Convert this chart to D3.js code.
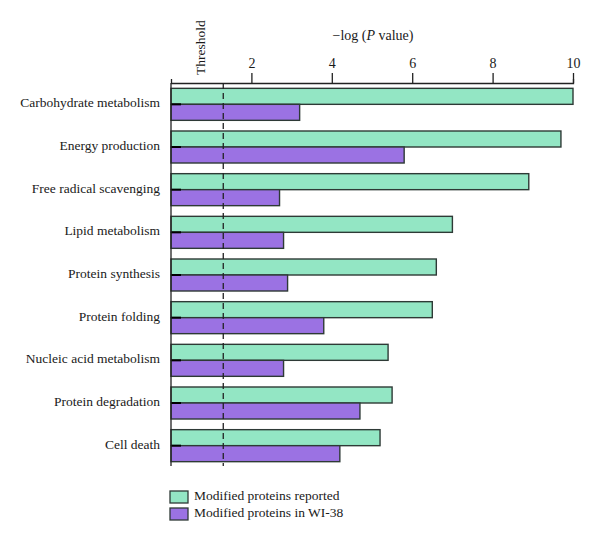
<!DOCTYPE html>
<html>
<head>
<meta charset="utf-8">
<script src="https://cdn.jsdelivr.net/npm/d3@7"></script>
<style>
  body { margin: 0; background: #fff; }
  text { font-family: "Liberation Serif", "DejaVu Serif", serif; fill: #1a1a1a; }
</style>
</head>
<body>
<svg id="chart" width="600" height="545"></svg>
<script>
const categories = ["Carbohydrate metabolism", "Energy production", "Free radical scavenging",
  "Lipid metabolism", "Protein synthesis", "Protein folding", "Nucleic acid metabolism",
  "Protein degradation", "Cell death"];
const reported = [10.0, 9.7, 8.9, 7.0, 6.6, 6.5, 5.4, 5.5, 5.2];
const wi38 = [3.2, 5.8, 2.7, 2.8, 2.9, 3.8, 2.8, 4.7, 4.2];
const seriesNames = ["Modified proteins reported", "Modified proteins in WI-38"];
const tickValues = [2, 4, 6, 8, 10];
const threshold = 1.3;

const colors = ["#93E6C4", "#9B72E3"];
const strokeCol = "#2e3a36";

const svg = d3.select("#chart");
const x = d3.scaleLinear().domain([0, 10]).range([171, 573]);
const y = d3.scaleBand().domain(categories).range([83, 467]).paddingInner(0.25).paddingOuter(0.125);
const sub = d3.scaleBand().domain([0, 1]).range([0, y.bandwidth()]);

// bars
const series = [reported, wi38];
series.forEach((vals, si) => {
  svg.append("g").selectAll("rect").data(categories).join("rect")
    .attr("x", x(0))
    .attr("y", (d) => y(d) + sub(si))
    .attr("width", (d, i) => x(vals[i]) - x(0))
    .attr("height", sub.bandwidth())
    .attr("fill", colors[si])
    .attr("stroke", strokeCol)
    .attr("stroke-width", 1.4);
});

// small category ticks
svg.append("g").selectAll("line").data(categories).join("line")
  .attr("x1", x(0)).attr("x2", x(0) + 10)
  .attr("y1", d => y(d) + y.bandwidth() / 2).attr("y2", d => y(d) + y.bandwidth() / 2)
  .attr("stroke", "#000").attr("stroke-width", 2);

// category labels
svg.append("g").selectAll("text").data(categories).join("text")
  .attr("x", 160)
  .attr("y", d => y(d) + y.bandwidth() / 2)
  .attr("text-anchor", "end")
  .attr("dominant-baseline", "middle")
  .attr("font-size", 13.5)
  .text(d => d);

// left axis line
svg.append("line").attr("x1", x(0)).attr("x2", x(0)).attr("y1", 83).attr("y2", 466)
  .attr("stroke", "#222").attr("stroke-width", 1.3);

// top axis
const axis = d3.axisTop(x).tickValues(tickValues).tickSize(10).tickSizeOuter(4).tickPadding(5);
const ag = svg.append("g").attr("transform", "translate(0,83)").call(axis);
ag.select(".domain").attr("stroke", "#222").attr("stroke-width", 1.3);
ag.selectAll(".tick line").attr("stroke", "#222").attr("stroke-width", 1.3);
ag.selectAll(".tick text").attr("font-size", 14).attr("fill", "#1a1a1a")
  .attr("font-family", "'Liberation Serif', serif");

// threshold line
svg.append("line").attr("x1", x(threshold)).attr("x2", x(threshold))
  .attr("y1", 83).attr("y2", 466)
  .attr("stroke", "#222").attr("stroke-width", 1.3).attr("stroke-dasharray", "6,4");

svg.append("text")
  .attr("transform", `translate(${x(threshold) - 18},75) rotate(-90)`)
  .attr("font-size", 13.5)
  .text("Threshold");

// axis title
const title = svg.append("text").attr("x", 373).attr("y", 40).attr("text-anchor", "middle").attr("font-size", 14);
title.append("tspan").text("\u2212log (");
title.append("tspan").attr("font-style", "italic").text("P");
title.append("tspan").text(" value)");

// legend
const lg = svg.append("g");
seriesNames.forEach((n, i) => {
  const yy = 491 + i * 17;
  lg.append("rect").attr("x", 170).attr("y", yy).attr("width", 18).attr("height", 12)
    .attr("fill", colors[i]).attr("stroke", strokeCol).attr("stroke-width", 1.3);
  lg.append("text").attr("x", 194).attr("y", yy + 6).attr("dominant-baseline", "middle")
    .attr("font-size", 13.5).text(n);
});
</script>
</body>
</html>
